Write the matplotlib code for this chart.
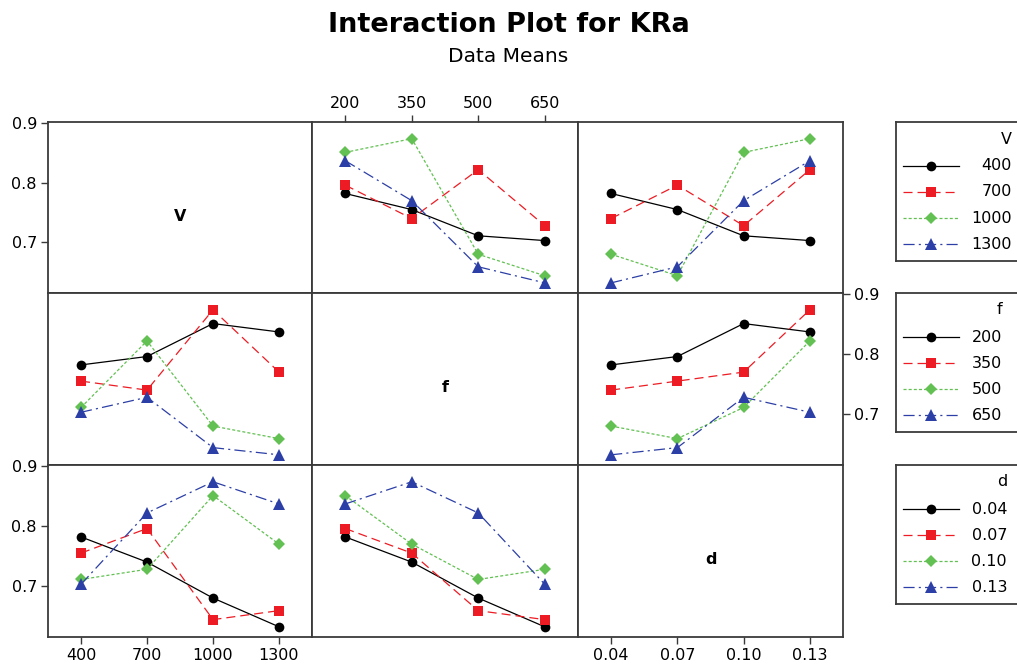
import numpy as np
import pandas as pd
import matplotlib
matplotlib.use('Agg')
import matplotlib.pyplot as plt

# L16 design runs: V, f, d and measured KRa
v_runs = [400, 400, 400, 400, 700, 700, 700, 700, 1000, 1000, 1000, 1000, 1300, 1300, 1300, 1300]
f_runs = [200, 350, 500, 650, 200, 350, 500, 650, 200, 350, 500, 650, 200, 350, 500, 650]
d_runs = [0.04, 0.07, 0.10, 0.13, 0.07, 0.04, 0.13, 0.10, 0.10, 0.13, 0.04, 0.07, 0.13, 0.10, 0.07, 0.04]
kra_runs = [0.782, 0.755, 0.711, 0.703, 0.796, 0.740, 0.822, 0.728,
            0.851, 0.874, 0.680, 0.644, 0.837, 0.770, 0.659, 0.632]

factors = ['V', 'f', 'd']
v_levels = [400, 700, 1000, 1300]
f_levels = [200, 350, 500, 650]
d_levels = [0.04, 0.07, 0.10, 0.13]
v_labels = ['400', '700', '1000', '1300']
f_labels = ['200', '350', '500', '650']
d_labels = ['0.04', '0.07', '0.10', '0.13']
y_ticks = [0.7, 0.8, 0.9]

levels = {'V': v_levels, 'f': f_levels, 'd': d_levels}
labels = {'V': v_labels, 'f': f_labels, 'd': d_labels}

df = pd.DataFrame({'V': v_runs, 'f': f_runs, 'd': d_runs, 'KRa': kra_runs})

plt.rcParams['font.family'] = 'DejaVu Sans'
plt.rcParams['lines.scale_dashes'] = False

colors = ['black', '#ed1c24', '#62c152', '#2c3fa6']
markers = ['o', 's', 'D', '^']
msizes = [7, 6.5, 6.3, 8.5]
styles = ['-', (0, (6.5, 3.6)), (0, (2.2, 1.5)), (0, (8, 3, 1.5, 3))]
frame_color = '#3a3a3a'

W, H = 1017, 668
fig = plt.figure(figsize=(W / 100, H / 100), dpi=100)


def px_axes(x0, y0, x1, y1):
    return fig.add_axes([x0 / W, 1 - y1 / H, (x1 - x0) / W, (y1 - y0) / H])


col_edges = [48, 312, 578, 843]
row_edges = [122, 293, 465, 637]

for i, trace in enumerate(factors):
    for j, xf in enumerate(factors):
        ax = px_axes(col_edges[j], row_edges[i], col_edges[j + 1], row_edges[i + 1])
        ax.set_xlim(-0.5, 3.5)
        ax.set_ylim(0.615, 0.902)
        for s in ax.spines.values():
            s.set_color(frame_color)
            s.set_linewidth(1.3)
        ax.tick_params(direction='out', length=5, width=1, color=frame_color,
                       labelsize=11.5, pad=3,
                       left=False, right=False, top=False, bottom=False,
                       labelleft=False, labelright=False, labeltop=False, labelbottom=False)
        ax.set_xticks(range(4))
        ax.set_xticklabels(labels[xf])
        ax.set_yticks(y_ticks)
        ax.set_yticklabels(['%.1f' % t for t in y_ticks])

        if i == j:
            ax.text(0.5, 0.45, trace, transform=ax.transAxes, ha='center', va='center',
                    fontsize=11.5, fontweight='bold')
        else:
            means = df.groupby([trace, xf])['KRa'].mean()
            for k, lev in enumerate(levels[trace]):
                ys = [means[(lev, xl)] for xl in levels[xf]]
                ax.plot(range(4), ys, color=colors[k], linestyle=styles[k], linewidth=0.9,
                        marker=markers[k], markersize=msizes[k], markeredgewidth=0)

        # tick placement like the Minitab matrix
        if j == 0 and i in (0, 2):
            ax.tick_params(left=True, labelleft=True)
        if i == 1 and j == 2:
            ax.tick_params(right=True, labelright=True)
        if i == 0 and j == 1:
            ax.tick_params(top=True, labeltop=True)
        if i == 2 and j in (0, 2):
            ax.tick_params(bottom=True, labelbottom=True)

# legends drawn as small boxes on the right
legend_tops = [122, 293, 465]
legend_right = [116, 106, 111]
for i, trace in enumerate(factors):
    top = legend_tops[i]
    lax = px_axes(896, top, 1030, top + 139)
    lax.set_xlim(0, 134)
    lax.set_ylim(139, 0)
    lax.set_xticks([])
    lax.set_yticks([])
    for s in lax.spines.values():
        s.set_color(frame_color)
        s.set_linewidth(1.3)
    lax.text(legend_right[i], 17, trace, ha='right', va='center', fontsize=11.5)
    for k, lab in enumerate(labels[trace]):
        yy = 44 + 26 * k
        lax.plot([7, 63], [yy, yy], color=colors[k], linestyle=styles[k], linewidth=0.9)
        lax.plot([35], [yy], color=colors[k], marker=markers[k], markersize=msizes[k],
                 markeredgewidth=0)
        lax.text(legend_right[i], yy, lab, ha='right', va='center', fontsize=11.5)

fig.text(0.5, 1 - 25 / H, 'Interaction Plot for KRa', ha='center', va='center',
         fontsize=19.5, fontweight='bold')
fig.text(0.5, 1 - 57 / H, 'Data Means', ha='center', va='center', fontsize=14.5)

fig.savefig('out.png', dpi=100)
